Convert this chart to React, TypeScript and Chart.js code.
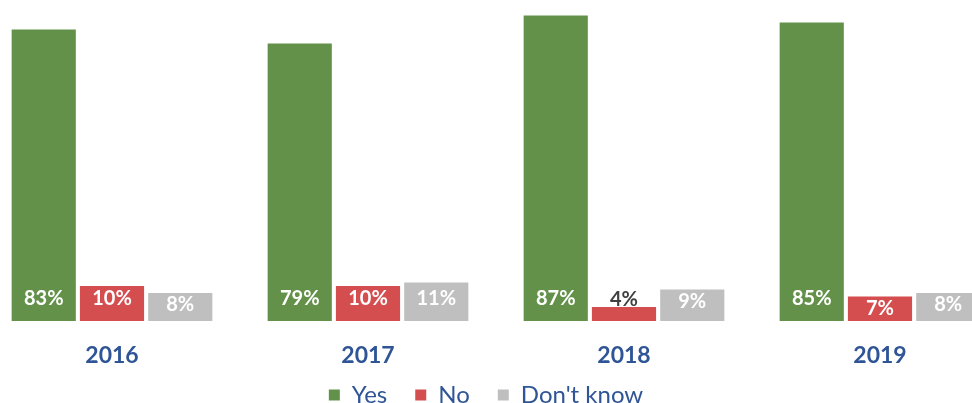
import React, { useEffect, useRef } from "react";
import { Chart, registerables } from "chart.js";

Chart.register(...registerables);

const years = ["2016", "2017", "2018", "2019"];
const yesValues = [83, 79, 87, 85];
const noValues = [10, 10, 4, 7];
const dontKnowValues = [8, 11, 9, 8];
const seriesNames = ["Yes", "No", "Don't know"];

const FONT = "Lato, 'Open Sans', sans-serif";
const BLUE = "#2F5597";

const labelPlugin = {
  id: "barLabels",
  afterDatasetsDraw(chart: any) {
    const ctx = chart.ctx;
    ctx.save();
    ctx.font = `bold 20px ${FONT}`;
    ctx.textAlign = "center";
    ctx.textBaseline = "middle";
    chart.data.datasets.forEach((ds: any, di: number) => {
      const meta = chart.getDatasetMeta(di);
      meta.data.forEach((bar: any, i: number) => {
        const v = ds.data[i];
        const text = `${v}%`;
        const h = bar.base - bar.y;
        let y: number;
        let color = "#FFFFFF";
        if (h < 16) {
          y = bar.y - 7;
          color = "#404040";
        } else {
          y = Math.max(bar.base - 22, bar.y + 12);
        }
        ctx.fillStyle = color;
        ctx.fillText(text, bar.x, y);
      });
    });
    ctx.restore();
  },
};

const legendPlacePlugin = {
  id: "legendPlace",
  afterLayout(chart: any) {
    const lg = chart.legend;
    if (!lg) return;
    const h = lg.height;
    lg.top = chart.chartArea.bottom + 34;
    lg.bottom = lg.top + h;
    lg.left -= 10;
    lg.right -= 10;
  },
};

export default function App() {
  const ref = useRef<HTMLCanvasElement | null>(null);
  useEffect(() => {
    if (!ref.current) return;
    const chart = new Chart(ref.current, {
      type: "bar",
      data: {
        labels: years,
        datasets: [
          { label: seriesNames[0], data: yesValues, backgroundColor: "#64914A" },
          { label: seriesNames[1], data: noValues, backgroundColor: "#D44D4F" },
          { label: seriesNames[2], data: dontKnowValues, backgroundColor: "#BFBFBF" },
        ],
      },
      options: {
        animation: false,
        responsive: true,
        maintainAspectRatio: false,
        layout: { padding: { top: 5, left: 0, right: 0, bottom: 0 } },
        datasets: {
          bar: { categoryPercentage: 0.8, barPercentage: 0.94 },
        },
        scales: {
          x: {
            grid: { display: false },
            border: { display: false },
            ticks: {
              color: BLUE,
              font: { family: FONT, size: 23, weight: "bold" },
              padding: 13,
            },
            afterFit(scale: any) {
              scale.height = 60;
            },
          },
          y: {
            display: false,
            min: 0,
            max: 90,
          },
        },
        plugins: {
          legend: {
            position: "bottom",
            labels: {
              color: BLUE,
              font: { family: FONT, size: 24 },
              boxWidth: 11,
              boxHeight: 11,
              padding: 28,
            },
          },
          tooltip: { enabled: false },
        },
      },
      plugins: [labelPlugin, legendPlacePlugin],
    });
    return () => chart.destroy();
  }, []);
  return (
    <div style={{ position: "fixed", left: 0, top: 0, width: 972, height: 403, overflow: "hidden", background: "#fff" }}>
      <div style={{ position: "absolute", left: -16, top: 0, width: 1024, height: 443 }}>
        <canvas ref={ref} />
      </div>
    </div>
  );
}
